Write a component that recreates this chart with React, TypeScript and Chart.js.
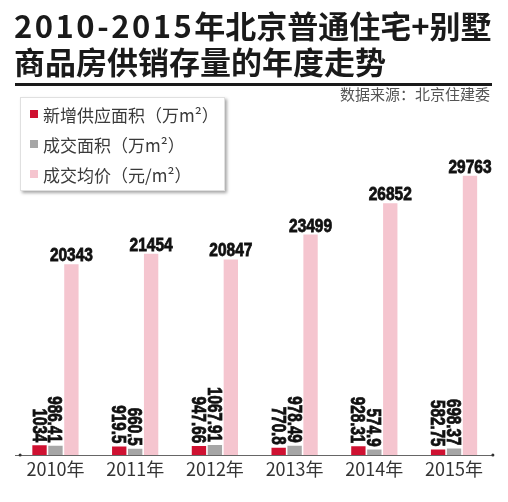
import React, { useEffect, useRef } from 'react';
import { Chart, registerables } from 'chart.js';

Chart.register(...registerables);

const categories = ['2010年', '2011年', '2012年', '2013年', '2014年', '2015年'];
const newSupply = [1034, 919.5, 947.66, 770.8, 928.31, 582.75];
const dealArea = [986.41, 660.5, 1067.91, 978.49, 574.9, 698.37];
const avgPrice = [20343, 21454, 20847, 23499, 26852, 29763];
const seriesNames = ['新增供应面积（万m²）', '成交面积（万m²）', '成交均价（元/m²）'];
const seriesLegend = [
  ['新增供应面积', '万m²'],
  ['成交面积', '万m²'],
  ['成交均价', '元/m²'],
];
const colors = ['#cf1131', '#a6a6a6', '#f5c5cf'];

const LABEL_FONT = '"Liberation Sans", Arial, sans-serif';

const labelPlugin = {
  id: 'valueLabels',
  afterDatasetsDraw(chart: any) {
    const ctx = chart.ctx as CanvasRenderingContext2D;
    chart.data.datasets.forEach((ds: any, di: number) => {
      const meta = chart.getDatasetMeta(di);
      meta.data.forEach((bar: any, i: number) => {
        const v = ds.data[i];
        const text = String(v);
        ctx.save();
        ctx.fillStyle = '#111';
        ctx.strokeStyle = '#111';
        ctx.lineWidth = 0.8;
        if (di === 2) {
          ctx.translate(bar.x, bar.y - 3);
          ctx.scale(0.86, 1);
          ctx.font = 'bold 18px ' + LABEL_FONT;
          ctx.textAlign = 'center';
          ctx.textBaseline = 'alphabetic';
          ctx.fillText(text, 0, 0);
          ctx.strokeText(text, 0, 0);
        } else {
          ctx.translate(bar.x, bar.y - 3);
          ctx.rotate(Math.PI / 2);
          ctx.scale(0.76, 1);
          ctx.font = 'bold 20px ' + LABEL_FONT;
          ctx.textAlign = 'right';
          ctx.textBaseline = 'alphabetic';
          ctx.fillText(text, 0, 7);
          ctx.strokeText(text, 0, 7);
        }
        ctx.restore();
      });
    });
    const area = chart.chartArea;
    ctx.save();
    ctx.fillStyle = '#333';
    ctx.beginPath();
    ctx.arc(area.left + 4.5, area.bottom, 1.5, 0, Math.PI * 2);
    ctx.fill();
    ctx.beginPath();
    ctx.arc(area.right - 1, area.bottom, 1.5, 0, Math.PI * 2);
    ctx.fill();
    ctx.restore();
  },
};

export default function App() {
  const canvasRef = useRef<HTMLCanvasElement | null>(null);

  useEffect(() => {
    if (!canvasRef.current) return;
    const chart = new Chart(canvasRef.current, {
      type: 'bar',
      data: {
        labels: categories,
        datasets: [
          { label: seriesNames[0], data: newSupply, backgroundColor: colors[0] },
          { label: seriesNames[1], data: dealArea, backgroundColor: colors[1] },
          { label: seriesNames[2], data: avgPrice, backgroundColor: colors[2] },
        ],
      },
      options: {
        responsive: false,
        animation: false,
        layout: { padding: { left: 15.6, right: 14.1, top: 173.6, bottom: 0 } },
        datasets: { bar: { categoryPercentage: 0.6, barPercentage: 0.9 } },
        plugins: {
          legend: { display: false },
          tooltip: { enabled: false },
          title: { display: false },
        },
        scales: {
          x: {
            grid: { display: false },
            border: { display: true, color: '#666', width: 1 },
            ticks: {
              color: '#333',
              padding: -5,
              font: { family: '"Noto Sans CJK SC", "Noto Sans", sans-serif', size: 18 },
            },
            afterFit: (scale: any) => {
              scale.height = 47;
            },
          },
          y: {
            display: false,
            min: 0,
            max: 30000,
          },
        },
      },
      plugins: [labelPlugin],
    });
    return () => chart.destroy();
  }, []);

  const cjk = '"Noto Sans CJK SC", "Noto Sans", sans-serif';

  return (
    <div style={{ position: 'absolute', left: 0, top: 0, width: 508, height: 502, background: '#fff', overflow: 'hidden' }}>
      <canvas ref={canvasRef} width={508} height={502} style={{ position: 'absolute', left: 0, top: 0 }} />
      <div style={{ position: 'absolute', left: 14, top: 7, fontFamily: cjk, fontWeight: 700, fontSize: 31, lineHeight: '36px', color: '#1a1a1a', whiteSpace: 'nowrap' }}>
        <div>
          <span style={{ letterSpacing: 2.5 }}>2010-2015</span>年北京普通住宅+别墅
        </div>
        <div>商品房供销存量的年度走势</div>
      </div>
      <div style={{ position: 'absolute', left: 15, top: 83, width: 477, height: 3, background: '#1a1a1a' }} />
      <div style={{ position: 'absolute', right: 18, top: 83, fontFamily: cjk, fontSize: 15, color: '#555', whiteSpace: 'nowrap' }}>
        数据来源：北京住建委
      </div>
      <div
        style={{
          position: 'absolute',
          left: 20,
          top: 97,
          width: 203,
          height: 92,
          background: '#fff',
          border: '1px solid #e0e0e0',
          boxShadow: '2px 2px 3px rgba(0,0,0,0.35)',
          fontFamily: cjk,
          fontSize: 17,
          color: '#3a3a3a',
        }}
      >
        {seriesLegend.map((s, i) => (
          <div key={i} style={{ position: 'absolute', left: 9, top: 4 + i * 30, height: 24, display: 'flex', alignItems: 'center', whiteSpace: 'nowrap' }}>
            <span style={{ display: 'inline-block', width: 8, height: 8, background: colors[i], marginRight: 5 }} />
            <span>
              {s[0]}（{s[1]}）
            </span>
          </div>
        ))}
      </div>
    </div>
  );
}
